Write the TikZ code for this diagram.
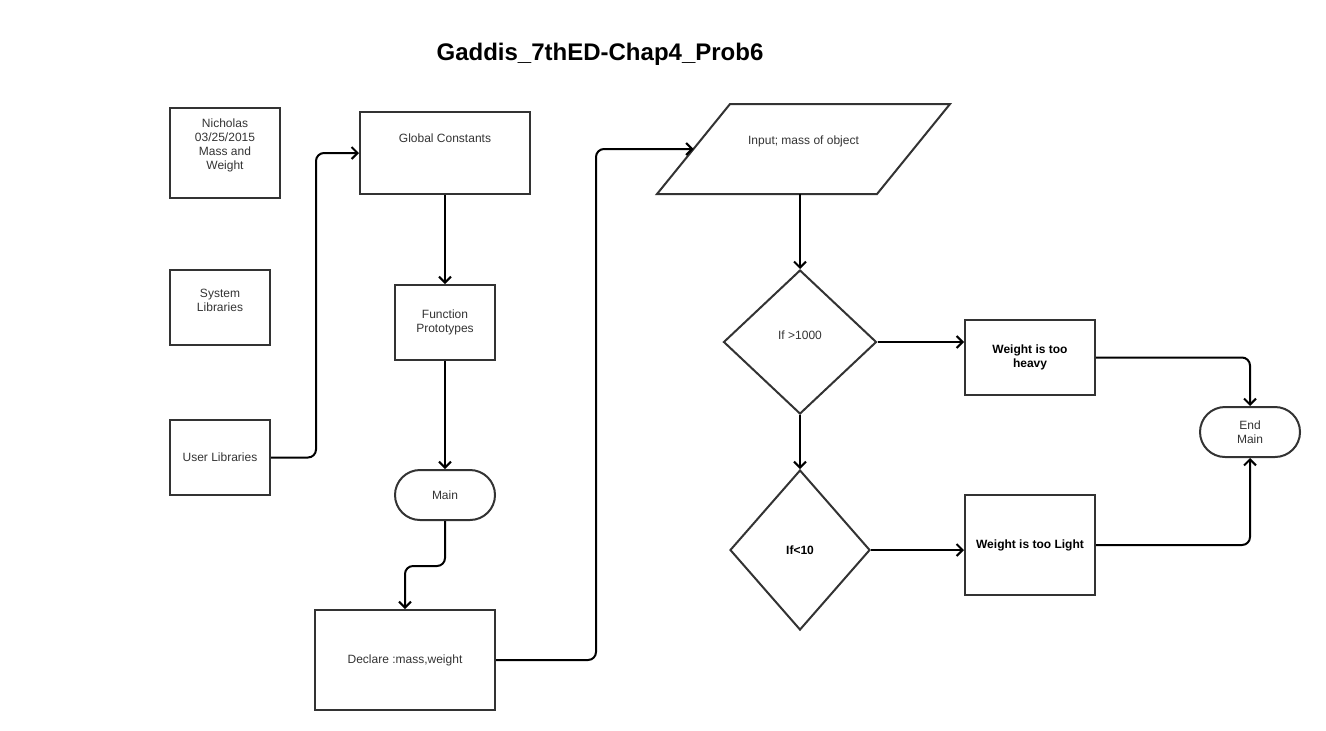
\documentclass[tikz,border=0pt]{standalone}
\usepackage{fontspec}
\setmainfont{Liberation Sans}
\usetikzlibrary{shapes.geometric,arrows.meta}
\definecolor{edge}{HTML}{333333}

\tikzset{
  box/.style={draw=edge, line width=1pt, text=edge, align=center, inner sep=1pt,
    font=\fontsize{6}{7}\selectfont},
  term/.style={box, rounded corners=12.5pt, minimum width=50pt, minimum height=25pt},
  decision/.style={box, diamond, inner sep=0pt},
  boldtext/.style={font=\fontsize{6}{7}\selectfont\bfseries, text=black},
  flow/.style={draw=black, line width=1pt, rounded corners=4pt,
    -{Straight Barb[length=3pt,width=6pt]}}
}

\begin{document}
\begin{tikzpicture}[x=0.5pt, y=-0.5pt]
	\useasboundingbox (0,0) rectangle (1326,730);
	\node (title) at (600,54) {\fontsize{12}{14}\selectfont\bfseries Gaddis\_7thED-Chap4\_Prob6};

	% left column
	\node[box, minimum width=55pt, minimum height=45pt, text depth=9pt] (nich) at (225,153) {Nicholas\\03/25/2015\\Mass and\\Weight};
	\node[box, minimum width=50pt, minimum height=37.5pt, text depth=7pt] (sys) at (220,307.5) {System\\Libraries};
	\node[box, minimum width=50pt, minimum height=37.5pt] (user) at (220,457.5) {User Libraries};

	% middle column
	\node[box, minimum width=85pt, minimum height=41pt, text depth=15pt] (glob) at (445,153) {Global Constants};
	\node[box, minimum width=50pt, minimum height=37.5pt] (func) at (445,322.5) {Function\\Prototypes};
	\node[term] (main) at (445,495) {Main};
	\node[box, minimum width=90pt, minimum height=50pt] (decl) at (405,660) {Declare :mass,weight};

	% input parallelogram
	\node[box, draw=none, minimum height=45pt, text depth=9pt] (input) at (803.5,149) {Input; mass of object};
	\draw[edge, line width=1pt, line join=miter] (input.center) ++(-146.5,45) -- ++(73,-90) -- ++(220,0) -- ++(-73,90) -- cycle;
	\coordinate (inleft) at ([xshift=-55pt]input.center);
	\coordinate (inbottom) at ([yshift=-22.5pt]input.center);

	% decisions and results
	\node[decision, minimum width=76.5pt, minimum height=72pt, text depth=7pt] (dec1) at (800,342) {If >1000};
	\node[decision, boldtext, minimum width=70pt, minimum height=80pt] (dec2) at (800,550) {If<10};
	\node[box, boldtext, minimum width=65pt, minimum height=37.5pt] (heavy) at (1030,357.5) {Weight is too\\heavy};
	\node[box, boldtext, minimum width=65pt, minimum height=50pt] (light) at (1030,545) {Weight is too Light};
	\node[term] (endm) at (1250,432) {End\\Main};

	% connectors
	\draw[flow] (user.east) -- ++(45,0) |- (glob.west);
	\draw[flow] (glob.south) -- (func.north);
	\draw[flow] (func.south) -- (main.north);
	\draw[flow] (main.south) -- ++(0,45) -| (decl.north);
	\draw[flow] (decl.east) -- ++(100,0) |- (inleft);
	\draw[flow] (inbottom -| dec1.north) -- (dec1.north);
	\draw[flow] (dec1.east) -- (dec1.east -| heavy.west);
	\draw[flow] (dec1.south) -- (dec2.north);
	\draw[flow] (dec2.east) -- (dec2.east -| light.west);
	\draw[flow] (heavy.east) -| (endm.north);
	\draw[flow] (light.east) -| (endm.south);
\end{tikzpicture}
\end{document}
